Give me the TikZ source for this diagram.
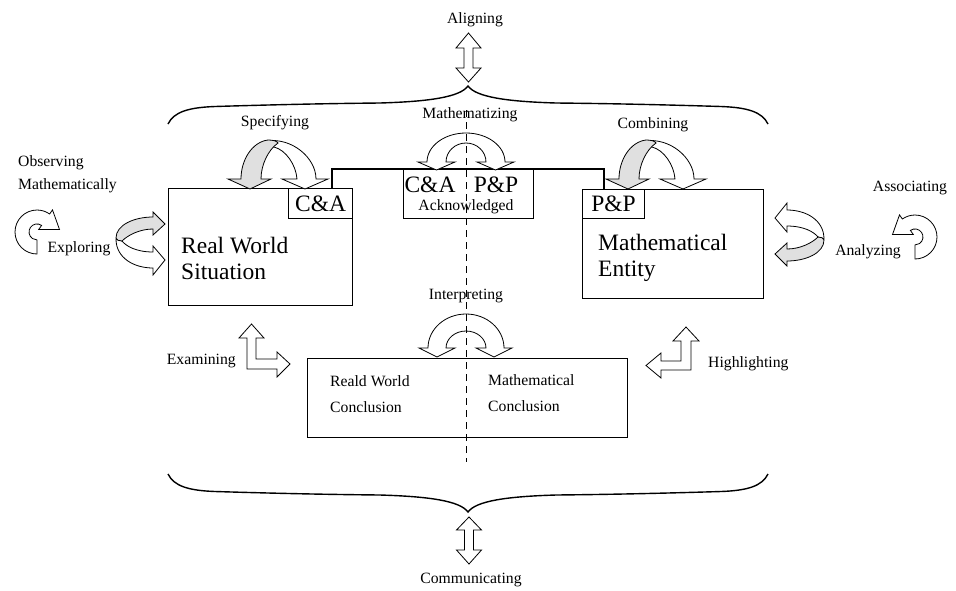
\documentclass[tikz,border=0pt]{standalone}
\usepackage{fontspec}
\setmainfont{Liberation Serif}
\definecolor{shadegray}{RGB}{224,224,224}
\tikzset{
  box/.style={draw, line width=1.1pt, inner sep=0pt, anchor=north west},
  lbl/.style={inner sep=0pt, font=\fontsize{15.7}{18}\selectfont},
  big/.style={inner sep=0pt, font=\fontsize{23.5}{26}\selectfont},
  arw/.style={draw, fill=white, line width=0.8pt, line join=miter},
  shd/.style={draw, fill=shadegray, line width=0.8pt, line join=miter},
  brc/.style={draw, line width=1.4pt},
}
% twisted double arrow, bulge at origin, heads toward +x
\newcommand\twistarrow{%
  \path[arw] (0,-1) .. controls (0,-20) and (18,-30) .. (37,-30) -- (37,-37) -- (49,-22) -- (37,-8) -- (37,-14)
     .. controls (20,-14) and (10,-8) .. (6,-3) -- cycle;
  \path[shd] (37,9) -- (37,3) -- (49,14) -- (37,26) -- (37,21) .. controls (18,21) and (0,13) .. (0,0)
     .. controls (0,-2) and (3,-3) .. (6,-3) .. controls (12,3) and (24,9) .. (37,9) -- cycle;
}
% arch arrow with shaded left arm (Specifying shape)
\newcommand\archarrow{%
  \path[arw] (266,-141) .. controls (292,-137) and (316,-158) .. (316,-179) -- (328,-179) -- (305,-189) -- (282,-179) -- (297,-179)
     .. controls (296,-165) and (286,-150) .. (274,-147) -- cycle;
  \path[shd] (261,-179) -- (271,-179) -- (250,-189) -- (228,-179) -- (241,-179)
     .. controls (241,-160) and (252,-142) .. (268,-140) .. controls (273,-140) and (277,-141) .. (278,-143)
     .. controls (268,-150) and (261,-165) .. (261,-179) -- cycle;
}
% circular arrow, centre at origin
\newcommand\looparrow{%
  \path[arw] (0,-22) arc[start angle=270,end angle=55,radius=22] -- (15.5,22.1) -- (22.5,2.5) -- (1.7,2.5) -- (4.6,6.6)
     arc[start angle=55,end angle=270,radius=8] -- cycle;
}
\begin{document}
\begin{tikzpicture}[x=1pt,y=1pt]
\useasboundingbox (0,0) rectangle (956,-590);

% boxes
\node[box, minimum width=184pt, minimum height=117pt] (rw) at (168,-188) {};
\node[box, minimum width=64pt, minimum height=30pt] (ca) at (288,-188) {};
\node[box, minimum width=130pt, minimum height=49pt] (ack) at (403,-169) {};
\node[box, minimum width=181pt, minimum height=109pt] (me) at (582,-189) {};
\node[box, minimum width=62pt, minimum height=29pt] (pp) at (582,-189) {};
\node[box, minimum width=320pt, minimum height=79pt] (con) at (307,-358) {};

\draw[line width=1.1pt] ([xshift=44pt]ca.north west) |- (ack.north) -| ([xshift=22pt]pp.north west);

% box texts
\node[big, anchor=base west] (rwt1) at (181,-253) {Real World};
\node[big, anchor=base west] (rwt2) at (181,-279) {Situation};
\node[big] (cat) at (ca.center) {C\&A};
\node[big] (ppt) at (pp.center) {P\&P};
\node[big] (ackca) at (430,-185) {C\&A};
\node[big] (ackpp) at (496,-185) {P\&P};
\node[lbl] (ackt) at (466,-207) {Acknowledged};
\node[big, anchor=base west] (met1) at (598,-250) {Mathematical};
\node[big, anchor=base west] (met2) at (598,-276) {Entity};
\node[lbl, anchor=west] (c1) at (330,-381) {Reald World};
\node[lbl, anchor=west] (c2) at (330,-407) {Conclusion};
\node[lbl, anchor=west] (c3) at (488,-380) {Mathematical};
\node[lbl, anchor=west] (c4) at (488,-406) {Conclusion};

% labels
\node[lbl] (al) at (475,-20) {Aligning};
\node[lbl] (sp) at (275,-123) {Specifying};
\node[lbl] (ma) at (470,-115) {Mathematizing};
\node[lbl] (co) at (653,-125) {Combining};
\node[lbl, anchor=west] (ob1) at (18,-163) {Observing};
\node[lbl, anchor=west] (ob2) at (18,-186) {Mathematically};
\node[lbl] (ex) at (79,-249) {Exploring};
\node[lbl] (as) at (910,-188) {Associating};
\node[lbl] (an) at (868,-252) {Analyzing};
\node[lbl] (in) at (466,-296) {Interpreting};
\node[lbl, anchor=east] (exa) at (236,-361) {Examining};
\node[lbl, anchor=west] (hi) at (708,-364) {Highlighting};
\node[lbl] (cm) at (471,-580) {Communicating};

% braces
\draw[brc] (168,-124) .. controls (174,-112) and (188,-107.5) .. (215,-106.5) .. controls (280,-104.5) and (330,-103.5) .. (380,-103)
  .. controls (430,-101.5) and (460,-97) .. (468,-86) .. controls (476,-97) and (506,-101.5) .. (556,-103)
  .. controls (606,-103.5) and (656,-104.5) .. (721,-106.5) .. controls (748,-107.5) and (762,-112) .. (768,-124);
\draw[brc] (168,-474) .. controls (174,-486) and (188,-490.5) .. (215,-491.5) .. controls (280,-493.5) and (330,-494.5) .. (380,-495)
  .. controls (430,-496.5) and (460,-501) .. (468,-512) .. controls (476,-501) and (506,-496.5) .. (556,-495)
  .. controls (606,-494.5) and (656,-493.5) .. (721,-491.5) .. controls (748,-490.5) and (762,-486) .. (768,-474);

% vertical double arrows
\path[arw] (468.5,-33) -- (481,-48) -- (473,-48) -- (473,-68) -- (481,-68) -- (468.5,-82) -- (456,-68) -- (464,-68) -- (464,-48) -- (456,-48) -- cycle;
\path[arw] (469,-517) -- (481.5,-530) -- (473.5,-530) -- (473.5,-550) -- (481.5,-550) -- (469,-564) -- (456.5,-550) -- (464.5,-550) -- (464.5,-530) -- (456.5,-530) -- cycle;

% L arrows
\path[arw] (251.5,-324) -- (264,-338) -- (256,-338) -- (256,-359) -- (277,-359) -- (277,-352) -- (290,-364) -- (277,-377) -- (277,-369) -- (247,-369) -- (247,-338) -- (239,-338) -- cycle;
\path[arw] (686,-327) -- (699,-341) -- (691,-341) -- (691,-370) -- (661,-370) -- (661,-378) -- (646,-365.5) -- (661,-353) -- (661,-361) -- (681,-361) -- (681,-341) -- (673,-341) -- cycle;

% arch arrows (Mathematizing, Interpreting)
\path[arw] (427,-162) arc[start angle=180,end angle=0,x radius=39,y radius=29] -- (514,-162) -- (495.5,-170) -- (477,-162) -- (486,-162)
   arc[start angle=0,end angle=180,x radius=20,y radius=19] -- (455,-162) -- (436.5,-170) -- (418,-162) -- cycle;
\path[arw] (428,-348) arc[start angle=180,end angle=0,x radius=38,y radius=34] -- (512,-348) -- (494,-357) -- (476,-348) -- (486,-348)
   arc[start angle=0,end angle=180,x radius=20,y radius=17] -- (455,-348) -- (437,-357) -- (419,-348) -- cycle;

% Specifying and Combining
\archarrow
\begin{scope}[shift={(378,0)}]\archarrow\end{scope}

% Exploring and Analyzing
\begin{scope}[shift={(116,-238)}]\twistarrow\end{scope}
\begin{scope}[shift={(824,-240)}, rotate=180]\twistarrow\end{scope}

% Observing and Associating loops
\begin{scope}[shift={(37,-232)}]\looparrow\end{scope}
\begin{scope}[shift={(915,-237)}, xscale=-1]\looparrow\end{scope}

% dashed divider
\coordinate (dtop) at (466,-110);
\coordinate (dbot) at (466,-462);
\draw[line width=0.9pt, dash pattern=on 7pt off 5pt] (dtop) -- (dbot);
\end{tikzpicture}
\end{document}
